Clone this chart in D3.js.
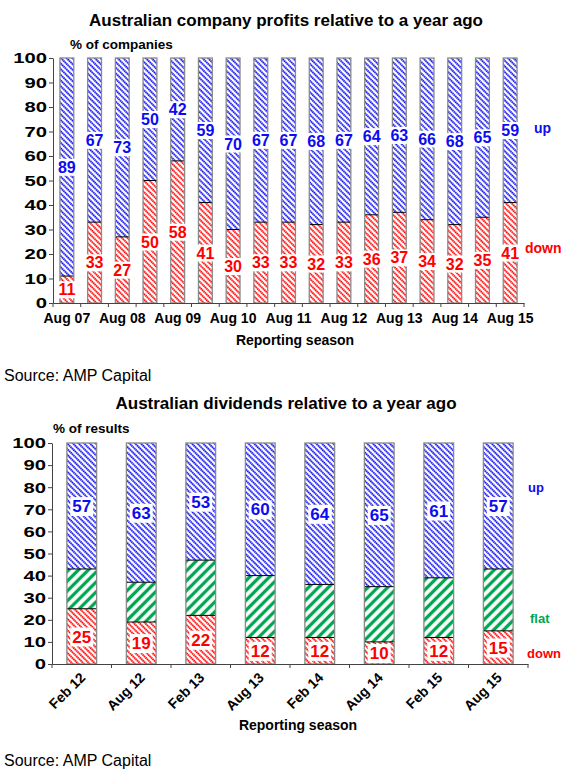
<!DOCTYPE html>
<html>
<head>
<meta charset="utf-8">
<script src="https://cdn.jsdelivr.net/npm/d3@7"></script>
<style>
  body { margin: 0; background: #fff; }
  svg { font-family: "Liberation Sans", Arial, sans-serif; }
  .title { font-size: 17px; font-weight: bold; text-anchor: middle; }
  .unit { font-size: 13.5px; font-weight: bold; }
  .xtitle { font-size: 14px; font-weight: bold; text-anchor: middle; }
  .source { font-size: 16px; }
  .legend { font-weight: bold; }
</style>
</head>
<body>
<svg id="chart" width="580" height="780"></svg>
<script>
// profits chart: reporting seasons Aug 07 .. Aug 15
var profitSeasons = ["Aug 07", "Feb 08", "Aug 08", "Feb 09", "Aug 09", "Feb 10", "Aug 10", "Feb 11",
  "Aug 11", "Feb 12", "Aug 12", "Feb 13", "Aug 13", "Feb 14", "Aug 14", "Feb 15", "Aug 15"];
var profitUp = [89, 67, 73, 50, 42, 59, 70, 67, 67, 68, 67, 64, 63, 66, 68, 65, 59];
var profitDown = [11, 33, 27, 50, 58, 41, 30, 33, 33, 32, 33, 36, 37, 34, 32, 35, 41];

// dividends chart
var divSeasons = ["Feb 12", "Aug 12", "Feb 13", "Aug 13", "Feb 14", "Aug 14", "Feb 15", "Aug 15"];
var divUp = [57, 63, 53, 60, 64, 65, 61, 57];
var divFlat = [18, 18, 25, 28, 24, 25, 27, 28];
var divDown = [25, 19, 22, 12, 12, 10, 12, 15];

var yTicks = [0, 10, 20, 30, 40, 50, 60, 70, 80, 90, 100];

var BLUE = "#0c0cf0", RED = "#ff0000", GREEN = "#00a651";

var svg = d3.select("#chart");
var defs = svg.append("defs");

// diagonal hatch fills
function hatch(id, color, size, width, angle, dash) {
  var p = defs.append("pattern")
    .attr("id", id)
    .attr("patternUnits", "userSpaceOnUse")
    .attr("width", size)
    .attr("height", size)
    .attr("patternTransform", "rotate(" + angle + ")");
  p.append("rect").attr("width", size).attr("height", size).attr("fill", "#fff");
  p.append("line")
    .attr("x1", size / 2).attr("y1", 0)
    .attr("x2", size / 2).attr("y2", size)
    .attr("stroke", color)
    .attr("stroke-width", width)
    .attr("stroke-dasharray", dash);
}
hatch("hUp", BLUE, 4, 1.9, -45, "1.5,0.5");
hatch("hDown", RED, 4, 1.9, -45, "1.5,0.5");
hatch("hFlat", GREEN, 7, 3.3, 45, null);

function stackedChart(cfg) {
  var g = svg.append("g");

  var x = d3.scaleBand()
    .domain(cfg.seasons)
    .range([cfg.left, cfg.right])
    .paddingInner(0.5)
    .paddingOuter(0.25);

  var y = d3.scaleLinear()
    .domain([0, 100])
    .range([cfg.bottom, cfg.top]);

  var rows = cfg.seasons.map(function (s, i) {
    var r = { season: s };
    cfg.keys.forEach(function (k) { r[k] = cfg.values[k][i]; });
    return r;
  });
  var series = d3.stack().keys(cfg.keys)(rows);

  // segments
  var layer = g.selectAll(".layer")
    .data(series)
    .enter().append("g")
    .attr("class", "layer")
    .attr("fill", function (d) { return "url(#" + cfg.fills[d.key] + ")"; });

  layer.selectAll("rect")
    .data(function (d) { return d; })
    .enter().append("rect")
    .attr("x", function (d) { return x(d.data.season); })
    .attr("width", x.bandwidth())
    .attr("y", function (d) { return y(d[1]); })
    .attr("height", function (d) { return y(d[0]) - y(d[1]); });

  // black line between segments
  series.slice(0, -1).forEach(function (s) {
    g.selectAll(null)
      .data(s)
      .enter().append("line")
      .attr("x1", function (d) { return x(d.data.season); })
      .attr("x2", function (d) { return x(d.data.season) + x.bandwidth(); })
      .attr("y1", function (d) { return y(d[1]); })
      .attr("y2", function (d) { return y(d[1]); })
      .attr("stroke", "#000")
      .attr("stroke-width", 1);
  });

  // grey bar outline
  g.selectAll(null)
    .data(rows)
    .enter().append("rect")
    .attr("x", function (d) { return x(d.season); })
    .attr("width", x.bandwidth())
    .attr("y", y(100))
    .attr("height", y(0) - y(100))
    .attr("fill", "none")
    .attr("stroke", "#8a8a8a")
    .attr("stroke-width", 1.3);

  // value labels with white box
  cfg.labelled.forEach(function (key) {
    var s = series.find(function (d) { return d.key === key; });
    var lab = g.selectAll(null)
      .data(s)
      .enter().append("g")
      .attr("transform", function (d) {
        return "translate(" + (x(d.data.season) + x.bandwidth() / 2) + "," + y((d[0] + d[1]) / 2) + ")";
      });
    lab.append("rect").attr("fill", "#fff");
    lab.append("text")
      .attr("text-anchor", "middle")
      .attr("dy", "0.36em")
      .attr("font-size", cfg.labelSize)
      .attr("font-weight", "bold")
      .attr("fill", cfg.colors[key])
      .text(function (d) { return d.data[key]; });
    lab.each(function () {
      var b = d3.select(this).select("text").node().getBBox();
      d3.select(this).select("rect")
        .attr("x", b.x - 2).attr("y", b.y)
        .attr("width", b.width + 4).attr("height", b.height);
    });
  });

  // y axis (labels drawn wide, as in the original)
  var ya = g.append("g")
    .attr("transform", "translate(" + cfg.left + ",0)")
    .call(d3.axisLeft(y).tickValues(yTicks).tickSize(4).tickSizeOuter(0));
  ya.attr("font-family", null).attr("font-size", null);
  ya.selectAll("text")
    .attr("font-size", 15)
    .attr("font-weight", "bold")
    .attr("fill", "#000")
    .attr("transform", "scale(1.35,1)")
    .attr("x", -6 / 1.35);
  ya.select(".domain").attr("stroke", "#444");
  ya.selectAll(".tick line").attr("stroke", "#444");

  // x axis
  var xa = g.append("g")
    .attr("transform", "translate(0," + cfg.bottom + ")")
    .call(d3.axisBottom(x).tickSize(0).tickSizeOuter(0).tickFormat(cfg.tickFormat));
  xa.attr("font-family", null).attr("font-size", null);
  xa.select(".domain").attr("stroke", "#444");
  xa.selectAll("text")
    .attr("font-size", cfg.xSize)
    .attr("font-weight", "bold")
    .attr("fill", "#000");
  if (cfg.rotate) {
    xa.selectAll("text")
      .attr("y", 0).attr("dy", "0.35em")
      .attr("text-anchor", "end")
      .attr("transform", "translate(1,11) rotate(-45)");
  } else {
    xa.selectAll("text").attr("y", 10);
  }
  // tick marks sit between bars
  xa.selectAll(null)
    .data(d3.range(cfg.seasons.length + 1))
    .enter().append("line")
    .attr("x1", function (i) { return cfg.left + i * x.step(); })
    .attr("x2", function (i) { return cfg.left + i * x.step(); })
    .attr("y1", 0).attr("y2", 4)
    .attr("stroke", "#444");

  return { x: x, y: y };
}

// ---------- chart 1 ----------
svg.append("text").attr("class", "title").attr("x", 286).attr("y", 26)
  .text("Australian company profits relative to a year ago");
svg.append("text").attr("class", "unit").attr("x", 70).attr("y", 49).text("% of companies");

var c1 = stackedChart({
  seasons: profitSeasons,
  keys: ["down", "up"],
  values: { down: profitDown, up: profitUp },
  fills: { down: "hDown", up: "hUp" },
  colors: { down: RED, up: BLUE },
  labelled: ["down", "up"],
  labelSize: 16,
  xSize: 14,
  left: 53, right: 524, top: 58, bottom: 303,
  tickFormat: function (d, i) { return i % 2 === 0 ? d : ""; },
  rotate: false
});

svg.append("text").attr("class", "legend").attr("font-size", 14).attr("fill", BLUE)
  .attr("x", 534).attr("y", 133).text("up");
svg.append("text").attr("class", "legend").attr("font-size", 14).attr("fill", RED)
  .attr("x", 525).attr("y", 253).text("down");

svg.append("text").attr("class", "xtitle").attr("x", 295).attr("y", 345).text("Reporting season");
svg.append("text").attr("class", "source").attr("x", 4).attr("y", 381).text("Source: AMP Capital");

// ---------- chart 2 ----------
svg.append("text").attr("class", "title").attr("x", 286).attr("y", 409)
  .text("Australian dividends relative to a year ago");
svg.append("text").attr("class", "unit").attr("x", 53).attr("y", 433).text("% of results");

var c2 = stackedChart({
  seasons: divSeasons,
  keys: ["down", "flat", "up"],
  values: { down: divDown, flat: divFlat, up: divUp },
  fills: { down: "hDown", flat: "hFlat", up: "hUp" },
  colors: { down: RED, flat: GREEN, up: BLUE },
  labelled: ["down", "up"],
  labelSize: 17,
  xSize: 14,
  left: 52, right: 528, top: 443, bottom: 664,
  tickFormat: function (d) { return d; },
  rotate: true
});

svg.append("text").attr("class", "legend").attr("font-size", 13).attr("fill", BLUE)
  .attr("x", 528).attr("y", 492).text("up");
svg.append("text").attr("class", "legend").attr("font-size", 13).attr("fill", GREEN)
  .attr("x", 530).attr("y", 623).text("flat");
svg.append("text").attr("class", "legend").attr("font-size", 13).attr("fill", RED)
  .attr("x", 527).attr("y", 658).text("down");

svg.append("text").attr("class", "xtitle").attr("x", 298).attr("y", 730).text("Reporting season");
svg.append("text").attr("class", "source").attr("x", 4).attr("y", 766).text("Source: AMP Capital");
</script>
</body>
</html>
